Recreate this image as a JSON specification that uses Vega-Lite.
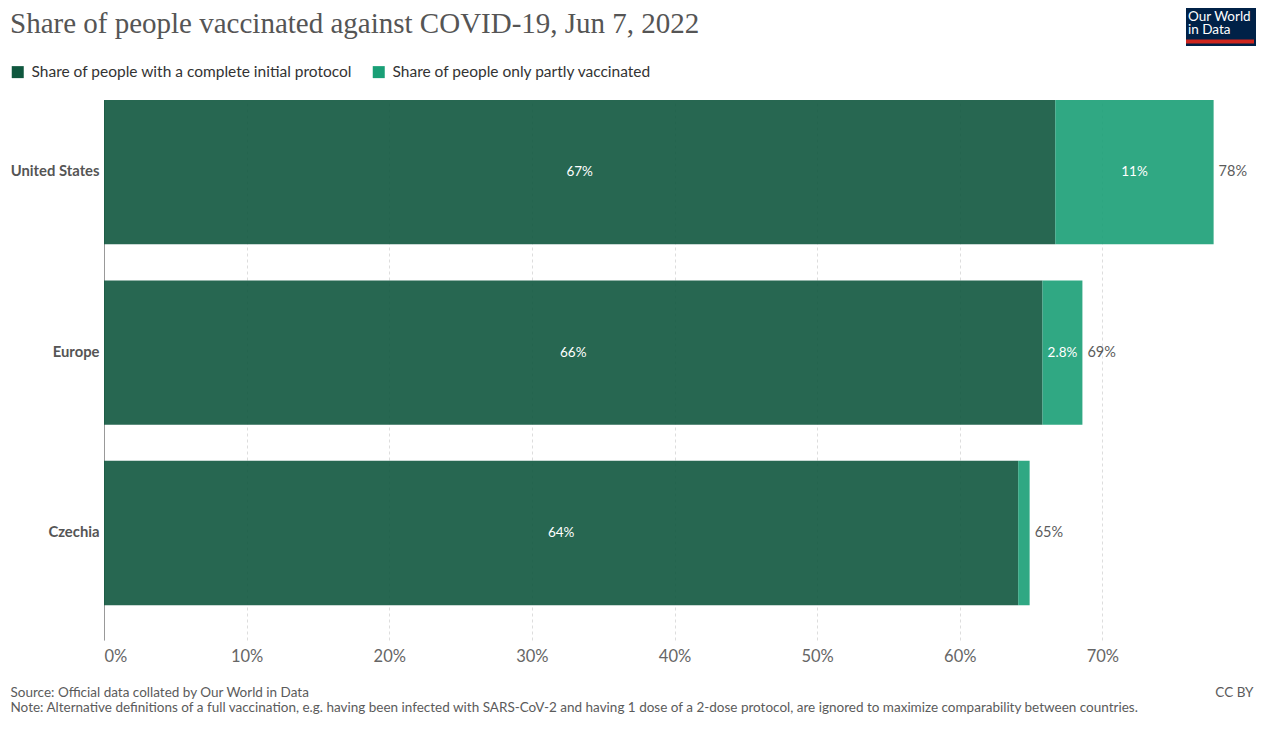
{
  "$schema": "https://vega.github.io/schema/vega-lite/v6.json",
  "width": 1141,
  "height": 540,
  "autosize": {"type": "none"},
  "padding": {"left": 104, "top": 100, "right": 21, "bottom": 89},
  "background": "white",
  "config": {"font": "Lato", "view": {"stroke": null}},
  "title": {
    "text": "Share of people vaccinated against COVID-19, Jun 7, 2022",
    "anchor": "start",
    "frame": "group",
    "font": "Liberation Serif",
    "fontSize": 29,
    "fontWeight": "normal",
    "color": "#555555",
    "dx": -94,
    "dy": 31,
    "offset": 0
  },
  "data": {
    "values": [
      {"country": "United States", "type": "Share of people with a complete initial protocol", "value": 0.667},
      {"country": "United States", "type": "Share of people only partly vaccinated", "value": 0.111},
      {"country": "Europe", "type": "Share of people with a complete initial protocol", "value": 0.658},
      {"country": "Europe", "type": "Share of people only partly vaccinated", "value": 0.028},
      {"country": "Czechia", "type": "Share of people with a complete initial protocol", "value": 0.641},
      {"country": "Czechia", "type": "Share of people only partly vaccinated", "value": 0.008}
    ]
  },
  "encoding": {
    "y": {
      "field": "country",
      "type": "nominal",
      "sort": ["United States", "Europe", "Czechia"],
      "scale": {"paddingInner": 0.2, "paddingOuter": 0.0966, "align": 0},
      "axis": {
        "title": "CC BY",
        "titleAngle": 0,
        "titleX": 1149,
        "titleY": 596,
        "titleAlign": "right",
        "titleBaseline": "alphabetic",
        "titleFont": "Lato",
        "titleFontSize": 13.5,
        "titleFontWeight": "normal",
        "titleColor": "#5b5b5b",
        "labelFontWeight": "bold",
        "labelFontSize": 14.8,
        "labelColor": "#555555",
        "labelPadding": 5,
        "labelLimit": 300,
        "ticks": false,
        "domainColor": "#999999",
        "grid": false
      }
    }
  },
  "layer": [
    {
      "mark": {"type": "bar", "opacity": 0.9},
      "encoding": {
        "x": {
          "field": "value",
          "type": "quantitative",
          "aggregate": "sum",
          "stack": "zero",
          "scale": {"domain": [0, 0.8], "nice": false},
          "axis": {
            "values": [0, 0.1, 0.2, 0.3, 0.4, 0.5, 0.6, 0.7],
            "format": ".0%",
            "grid": true,
            "gridDash": [3, 3],
            "gridColor": "#dddddd",
            "domain": false,
            "ticks": false,
            "labelFontSize": 16.5,
            "labelColor": "#666666",
            "labelPadding": 8,
            "labelFlush": true,
            "title": [
              "Source: Official data collated by Our World in Data",
              "Note: Alternative definitions of a full vaccination, e.g. having been infected with SARS-CoV-2 and having 1 dose of a 2-dose protocol, are ignored to maximize comparability between countries."
            ],
            "titleX": -94,
            "titleY": 56,
            "titleAlign": "left",
            "titleAnchor": "start",
            "titleBaseline": "alphabetic",
            "titleLineHeight": 15,
            "titleFontSize": 13.5,
            "titleFontWeight": "normal",
            "titleColor": "#5b5b5b"
          }
        },
        "color": {
          "field": "type",
          "type": "nominal",
          "scale": {
            "domain": ["Share of people with a complete initial protocol", "Share of people only partly vaccinated"],
            "range": ["#0f573e", "#199f76"]
          },
          "legend": {
            "orient": "none",
            "legendX": -94,
            "legendY": -36,
            "direction": "horizontal",
            "title": null,
            "symbolType": "square",
            "symbolSize": 144,
            "symbolOpacity": 1,
            "symbolStrokeWidth": 0,
            "labelFontSize": 15.5,
            "labelColor": "#333333",
            "labelOffset": 6,
            "labelLimit": 500,
            "columnPadding": 18,
            "padding": 0
          }
        },
        "order": {"field": "type", "sort": "descending"}
      }
    },
    {
      "transform": [
        {"stack": "value", "groupby": ["country"], "as": ["v0", "v1"], "sort": [{"field": "type", "order": "descending"}]},
        {"filter": "datum.value > 0.02"},
        {"calculate": "(datum.v0 + datum.v1) / 2", "as": "mid"}
      ],
      "mark": {"type": "text", "color": "white", "fontSize": 13.5, "align": "center", "baseline": "middle"},
      "encoding": {
        "x": {"field": "mid", "type": "quantitative"},
        "text": {"field": "value", "type": "quantitative", "format": ".2~p"}
      }
    },
    {
      "transform": [
        {"aggregate": [{"op": "sum", "field": "value", "as": "total"}], "groupby": ["country"]}
      ],
      "mark": {"type": "text", "color": "#5b5b5b", "fontSize": 14.5, "align": "left", "baseline": "middle", "dx": 5},
      "encoding": {
        "x": {"field": "total", "type": "quantitative"},
        "text": {"field": "total", "type": "quantitative", "format": ".0%"}
      }
    },
    {
      "mark": {"type": "point", "filled": true, "opacity": 0, "color": "#ce261e"},
      "encoding": {
        "shape": {
          "datum": "logo",
          "type": "nominal",
          "scale": {"range": ["M-2,0H32V2H-2Z"]},
          "legend": {
            "orient": "none",
            "legendX": 1082,
            "legendY": -92,
            "title": ["Our World", "in Data"],
            "titleColor": "white",
            "titleFont": "Lato",
            "titleFontSize": 13.5,
            "titleFontWeight": "normal",
            "titleLineHeight": 13,
            "titlePadding": 1,
            "titleAnchor": "start",
            "titleAlign": "left",
            "fillColor": "#002147",
            "padding": 2,
            "labelExpr": "''",
            "labelFontSize": 1,
            "labelOffset": 0,
            "symbolSize": 16,
            "symbolFillColor": "#ce261e",
            "symbolStrokeWidth": 0,
            "symbolOpacity": 1
          }
        }
      }
    }
  ]
}
